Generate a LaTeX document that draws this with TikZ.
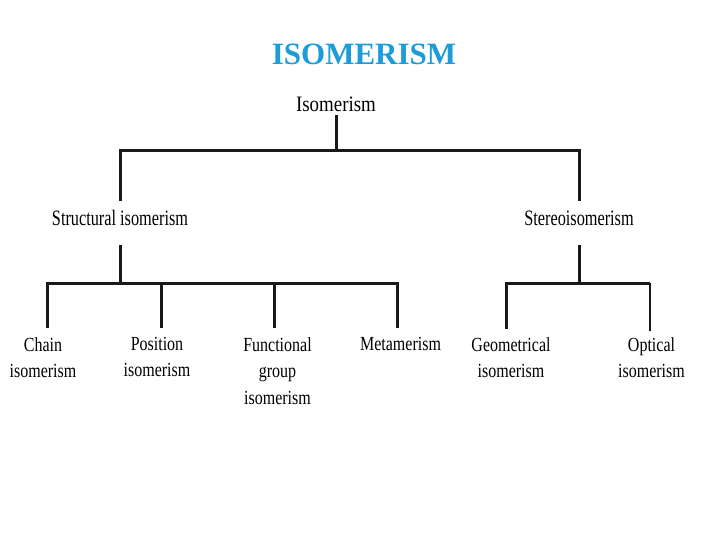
\documentclass[tikz,border=0pt]{standalone}
\usepackage{fontspec}
\setmainfont{Liberation Serif}
\newfontfamily\labelfont[FakeStretch=0.8]{Liberation Serif}
\newfontfamily\upfont[FakeStretch=0.74]{Liberation Serif}
\newfontfamily\topfont[FakeStretch=0.86]{Liberation Serif}
\definecolor{titleblue}{RGB}{28,156,216}
\begin{document}
\begin{tikzpicture}[x=1bp,y=-1bp,
  conn/.style={line width=3bp, draw=black!90},
  thinconn/.style={line width=1.5bp, draw=black!90},
  toplabel/.style={anchor=base, inner sep=0pt, text depth=3.3bp, font=\topfont\fontsize{22bp}{22bp}\selectfont},
  uplabel/.style={anchor=base, inner sep=0pt, text height=25bp, text depth=19bp, font=\upfont\fontsize{22bp}{22bp}\selectfont},
  leaf/.style={anchor=north, inner xsep=0pt, inner ysep=9bp, align=center, font=\labelfont\fontsize{20bp}{26.5bp}\selectfont}]
\fill[white] (0,0) rectangle (720,540);
\useasboundingbox (0,0) rectangle (720,540);
% title
\node[anchor=base, inner sep=0pt, text=titleblue, font=\fontsize{31bp}{31bp}\selectfont\bfseries] (title) at (364,65) {ISOMERISM};
% nodes
\node[toplabel] (iso) at (336,111.7) {Isomerism};
\node[uplabel] (struct) at (120,226) {Structural isomerism};
\node[uplabel] (stereo) at (579,226) {Stereoisomerism};
\node[leaf] (chain) at (43,328) {Chain\\isomerism};
\node[leaf] (pos) at (157,328) {Position\\isomerism};
\node[leaf] (func) at (277.5,328) {Functional\\group\\isomerism};
\node[leaf] (meta) at (400.5,328) {Metamerism};
\node[leaf] (geo) at (511,328) {Geometrical\\isomerism};
\node[leaf] (opt) at (651.5,328) {Optical\\isomerism};
% junctions
\coordinate (top) at (336,151);
\coordinate (lb) at (120,283);
\coordinate (rb) at (579,283);
% connectors
\draw[conn] (iso.south) -- (top);
\draw[conn] (struct.north) |- (top) -| (stereo.north);
\draw[conn] (struct.south) -- (lb);
\draw[conn] ([xshift=4bp]chain.north) |- (lb) -| ([xshift=-3.5bp]meta.north);
\draw[conn] ([xshift=4bp]pos.north) -- ([xshift=4bp]pos.north |- lb);
\draw[conn] ([xshift=-3.5bp]func.north) -- ([xshift=-3.5bp]func.north |- lb);
\draw[conn] (stereo.south) -- (rb);
\draw[conn] ([xshift=-5bp,yshift=-1bp]geo.north) |- (rb);
\draw[conn] (rb) -- ([xshift=-1.5bp]opt.north |- rb);
\draw[thinconn] ([xshift=-1.5bp,yshift=-3bp]opt.north) -- ([xshift=-1.5bp]opt.north |- rb);
\end{tikzpicture}
\end{document}
